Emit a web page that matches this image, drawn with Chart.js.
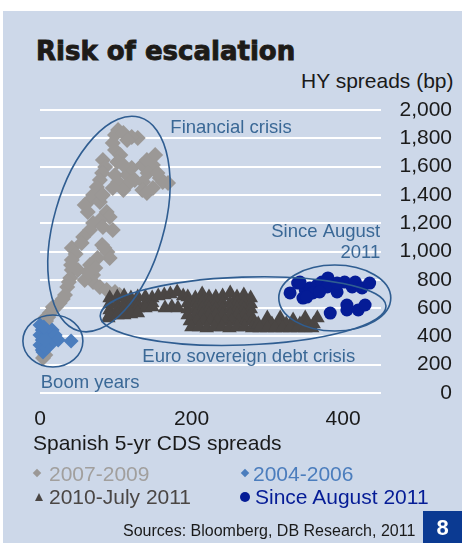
<!DOCTYPE html>
<html lang="en">
<head>
  <meta charset="UTF-8" />
  <title>Risk of escalation</title>
  <script src="https://cdn.jsdelivr.net/npm/chart.js@4"></script>
  <style>
    body { margin: 0; background: #fff; width: 462px; height: 543px; position: relative; overflow: hidden;
           font-family: 'Liberation Sans', Arial, sans-serif; }
    #panel { position: absolute; left: 3px; top: 11px; right: 0; bottom: 0; background: #cdd8e9; }
    #chart { position: absolute; left: 0; top: 0; }
    .txt { position: absolute; line-height: 1; white-space: nowrap; color: #1a1a1a; }
    #title { left: 36px; top: 38px; font: bold 26px 'DejaVu Sans', sans-serif; line-height: 1;
             color: #1d1b18; -webkit-text-stroke: 0.9px #1d1b18; }
    #ytitle { left: 301px; top: 70px; font-size: 21px; }
    #xtitle { left: 33px; top: 432px; font-size: 21px; }
    #source { left: 123px; top: 523px; font-size: 16px; }
    #pagebox { position: absolute; left: 423px; top: 511px; width: 39px; height: 32px; background: #0b3a92;
               color: #fff; font: bold 22px 'Liberation Sans', Arial, sans-serif; text-align: center; line-height: 34px; }
    .mk { position: absolute; }
  </style>
</head>
<body>
  <div id="panel"></div>
  <div id="title" class="txt">Risk of escalation</div>
  <div id="ytitle" class="txt">HY spreads (bp)</div>
  <canvas id="chart" width="462" height="543"></canvas>
  <div id="xtitle" class="txt">Spanish 5-yr CDS spreads</div>
  <div id="legend"></div>
  <div id="source" class="txt">Sources: Bloomberg, DB Research, 2011</div>
  <div id="pagebox">8</div>

  <script>
    // tick labels
    const xTickValues = [0, 200, 400];
    const yTickValues = [0, 200, 400, 600, 800, 1000, 1200, 1400, 1600, 1800, 2000];

    // 2007-2009 (grey diamonds): [CDS, HY]
    const crisis0709 = [
      [103,1859],[99,1823],[110,1837],[129,1802],[121,1809],[115,1788],[96,1767],[99,1717],
      [106,1682],[102,1632],[83,1647],[86,1597],[82,1555],[79,1505],[75,1456],[70,1399],
      [66,1364],[59,1329],[63,1279],[79,1350],[83,1399],[88,1279],[92,1244],[99,1541],
      [103,1491],[110,1435],[115,1541],[121,1590],[119,1491],[125,1505],[135,1611],[141,1647],
      [152,1682],[149,1611],[142,1555],[136,1491],[135,1435],[141,1413],[149,1449],[158,1519],
      [162,1491],[169,1484],[155,1555],[110,1611],[96,1449],[79,1223],[70,1201],[83,1173],
      [96,1152],[66,1152],[57,1102],[42,1025],[55,1060],[82,1046],[89,996],[92,954],
      [76,954],[47,982],[66,905],[70,834],[70,784],[79,749],[88,728],[99,714],[105,693],
      [42,940],[42,869],[40,813],[36,749],[33,693],[26,636],[17,587],[11,537],[17,608],
      [13,565],[7,530],[7,481],[4,410],[3,339],[4,247],[7,269],[50,869],[59,799],
      [41,904],[38,784],[30,664],[21,608],[8,509],[5,445],[73,883],[63,855],[85,1025]
    ];

    // 2004-2006 (blue diamonds)
    const boom0406 = [
      [0,481],[3,445],[0,410],[3,375],[0,339],[3,304],[4,290],[8,445],[11,403],[16,445],
      [20,410],[24,375],[13,339],[8,318],[41,367],[7,375],[5,466]
    ];

    // 2010-July 2011 (dark triangles)
    const euro1011 = [
      [92,671],[102,678],[111,685],[120,671],[129,678],[139,678],[148,671],
      [92,629],[102,629],[111,629],[120,629],[129,629],[139,629],[148,636],
      [92,587],[102,587],[111,594],[120,594],[129,601],[139,601],[148,608],
      [90,530],[92,551],[102,551],[111,551],[120,558],[129,565],
      [156,685],[164,693],[172,700],[181,714],[189,685],[165,601],[174,608],[182,601],
      [195,678],[205,671],[214,700],[223,678],[232,678],[241,685],[251,707],[260,678],[269,693],[278,671],
      [195,636],[205,636],[214,636],[223,636],[232,636],[241,636],[251,636],[260,636],[269,636],[278,629],
      [195,594],[205,594],[214,594],[223,594],[232,594],[241,594],[251,594],[260,594],[269,594],[278,594],
      [195,551],[205,551],[214,551],[223,551],[232,551],[241,551],[251,551],[260,551],[269,551],[278,551],
      [198,509],[207,509],[216,509],[225,509],[234,509],[244,509],[253,509],[262,509],[271,509],[280,509],
      [200,466],[210,466],[220,459],[230,466],[240,466],[250,459],[260,466],[270,466],[280,459],
      [300,530],[317,530],[334,516],[350,530],[366,530],
      [288,488],[297,488],[306,488],[315,488],[325,488],[334,488],[343,488],[352,488],[361,488],
      [290,459],[300,459],[310,459],[320,459],[330,459],[340,459],[350,459],[359,459]
    ];

    // Since August 2011 (navy circles)
    const since0811 = [
      [330,707],[340,777],[350,728],[356,742],[366,763],[372,784],[380,813],[379,749],[392,714],
      [402,784],[412,749],[416,784],[425,742],[435,777],[347,671],[360,707],[369,714],[392,777],
      [383,565],[405,622],[405,587],[420,587],[429,622],[352,678],[343,784]
    ];

    const seriesNames = ['2007-2009', '2004-2006', '2010-July 2011', 'Since August 2011'];
    const seriesColors = ['#9b9896', '#4b7dbd', '#4a4644', '#051c96'];
    const seriesText = ['#a19f9d', '#4b7dbd', '#4a4644', '#051c96'];
    const seriesStyles = ['rectRot', 'rectRot', 'triangle', 'circle'];
    const seriesRadius = [8, 7.5, 8.5, 6.5];
    const seriesData = [crisis0709, boom0406, euro1011, since0811];

    // ellipses and labels, anchored in data units
    const rings = [
      { x: 91, y: 1194, rx: 55, ry: 111, rot: 16 },
      { x: 17, y: 367, rx: 30, ry: 26, rot: 0 },
      { x: 268, y: 579, rx: 143, ry: 34, rot: -2 },
      { x: 389, y: 671, rx: 56, ry: 33, rot: 0 }
    ];
    const notes = [
      { text: 'Financial crisis', x: 172, y: 1837, align: 'left' },
      { text: 'Since August', x: 449, y: 1102, align: 'right' },
      { text: '2011', x: 449, y: 954, align: 'right' },
      { text: 'Euro sovereign debt crisis', x: 135, y: 219, align: 'left' },
      { text: 'Boom years', x: 1, y: 35, align: 'left' }
    ];

    const annotate = {
      id: 'annotate',
      afterDatasetsDraw(chart) {
        const { ctx, scales: { x, y } } = chart;
        ctx.save();
        ctx.strokeStyle = '#2f5d91';
        ctx.lineWidth = 1.6;
        rings.forEach(r => {
          ctx.beginPath();
          ctx.ellipse(x.getPixelForValue(r.x), y.getPixelForValue(r.y), r.rx, r.ry, r.rot * Math.PI / 180, 0, Math.PI * 2);
          ctx.stroke();
        });
        ctx.fillStyle = '#3a6896';
        ctx.font = "18.5px 'Liberation Sans', Arial, sans-serif";
        ctx.textBaseline = 'alphabetic';
        notes.forEach(n => {
          ctx.textAlign = n.align;
          ctx.fillText(n.text, x.getPixelForValue(n.x), y.getPixelForValue(n.y));
        });
        ctx.restore();
      }
    };

    // draw order: first dataset ends up on top
    const order = [3, 1, 2, 0];
    const datasets = order.map(i => ({
      label: seriesNames[i],
      data: seriesData[i].map(([cx, hy]) => ({ x: cx, y: hy })),
      backgroundColor: seriesColors[i],
      borderColor: seriesColors[i],
      borderWidth: 0,
      pointStyle: seriesStyles[i],
      pointRadius: seriesRadius[i],
      pointHoverRadius: seriesRadius[i],
      clip: false
    }));

    const tickFont = { family: "'Liberation Sans', Arial, sans-serif", size: 21 };

    new Chart(document.getElementById('chart'), {
      type: 'scatter',
      data: { datasets },
      options: {
        responsive: false,
        animation: false,
        events: [],
        layout: { padding: { left: 40, top: 110, right: 10, bottom: 110 } },
        plugins: { legend: { display: false }, tooltip: { enabled: false } },
        scales: {
          x: {
            type: 'linear', position: 'bottom', min: 0, max: 450,
            grid: { display: false, drawTicks: false },
            border: { display: false },
            afterBuildTicks: s => { s.ticks = xTickValues.map(v => ({ value: v })); },
            afterFit: s => { s.height = 40; },
            ticks: { font: tickFont, color: '#1a1a1a', padding: 14, maxRotation: 0 }
          },
          y: {
            type: 'linear', position: 'right', min: 0, max: 2000,
            grid: { color: '#ffffff', lineWidth: 2, drawTicks: false },
            border: { display: false },
            afterBuildTicks: s => { s.ticks = yTickValues.map(v => ({ value: v })); },
            afterFit: s => { s.width = 71; },
            ticks: {
              font: tickFont, color: '#1a1a1a', padding: 18.5, crossAlign: 'far',
              callback: v => v.toLocaleString('en-US')
            }
          }
        }
      },
      plugins: [annotate]
    });

    // legend, two columns
    const legendPos = [
      { mx: 37, my: 473, tx: 49, top: 463 },
      { mx: 245, my: 473, tx: 253, top: 463 },
      { mx: 39, my: 497, tx: 49, top: 486 },
      { mx: 245, my: 497, tx: 255, top: 486 }
    ];
    const legend = document.getElementById('legend');
    seriesNames.forEach((name, i) => {
      const p = legendPos[i];
      const mk = document.createElement('div');
      mk.className = 'mk';
      const st = seriesStyles[i];
      if (st === 'rectRot') {
        Object.assign(mk.style, { left: (p.mx - 3) + 'px', top: (p.my - 3) + 'px', width: '6px', height: '6px',
          background: seriesColors[i], transform: 'rotate(45deg)' });
      } else if (st === 'triangle') {
        Object.assign(mk.style, { left: (p.mx - 4) + 'px', top: (p.my - 4) + 'px', width: 0, height: 0,
          borderLeft: '4.5px solid transparent', borderRight: '4.5px solid transparent',
          borderBottom: '8px solid ' + seriesColors[i] });
      } else {
        Object.assign(mk.style, { left: (p.mx - 5) + 'px', top: (p.my - 5) + 'px', width: '10px', height: '10px',
          borderRadius: '50%', background: seriesColors[i] });
      }
      legend.appendChild(mk);
      const t = document.createElement('div');
      t.className = 'txt';
      t.textContent = name;
      Object.assign(t.style, { left: p.tx + 'px', top: p.top + 'px', fontSize: '21px', color: seriesText[i] });
      legend.appendChild(t);
    });
  </script>
</body>
</html>
